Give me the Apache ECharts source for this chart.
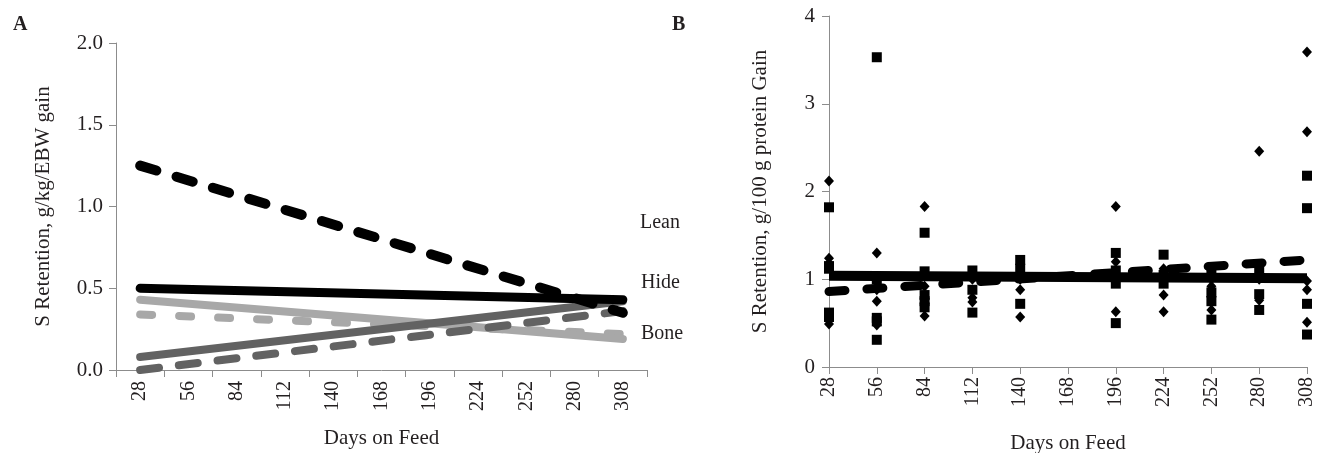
<!DOCTYPE html>
<html>
<head>
<meta charset="utf-8">
<script src="https://cdn.jsdelivr.net/npm/echarts@6/dist/echarts.min.js"></script>
<style>
html,body{margin:0;padding:0;background:#fff;}
#c{width:1317px;height:453px;}
</style>
</head>
<body>
<div id="c"></div>
<script>
// ---- Panel A data (linear trends, value at day 28 and day 308) ----
var daysA = ['28','56','84','112','140','168','196','224','252','280','308'];
var leanDashed   = [1.25, 0.35];   // black dashed
var hideSolid    = [0.50, 0.43];   // black solid
var boneSolid    = [0.43, 0.19];   // light grey solid
var boneDashed   = [0.34, 0.22];   // light grey dashed
var darkSolid    = [0.08, 0.42];   // dark grey solid
var darkDashed   = [0.00, 0.36];   // dark grey dashed
var yTicksA = [0, 0.5, 1.0, 1.5, 2.0];

// ---- Panel B data ----
var daysB = [28, 56, 84, 112, 140, 168, 196, 224, 252, 280, 308];
var diamondDays = [28,28,28,28,28, 56,56,56,56, 84,84,84,84,84, 112,112,112, 140,140,140,
                   196,196,196,196, 224,224,224, 252,252,252,252, 280,280,280, 308,308,308,308,308];
var diamondVals = [2.12,1.24,1.18,0.55,0.49, 1.30,0.88,0.75,0.48, 1.83,0.92,0.78,0.72,0.58, 1.00,0.79,0.74, 1.00,0.88,0.57,
                   1.83,1.20,1.05,0.63, 1.12,0.82,0.63, 1.00,0.92,0.80,0.65, 2.46,1.00,0.76, 3.59,2.68,0.98,0.88,0.51];
var squareDays = [28,28,28,28,28, 56,56,56,56,56, 84,84,84,84,84, 112,112,112, 140,140,140,
                  196,196,196,196, 224,224,224, 252,252,252,252, 280,280,280, 308,308,308,308];
var squareVals = [1.82,1.15,1.12,0.62,0.57, 3.53,1.00,0.56,0.52,0.31, 1.53,1.09,0.82,0.75,0.68, 1.10,0.88,0.62, 1.22,1.12,0.72,
                  1.30,1.10,0.95,0.50, 1.28,1.05,0.95, 1.05,0.85,0.75,0.54, 1.12,0.83,0.65, 2.18,1.81,0.72,0.37];
var trendSolidB  = [1.04, 1.01];
var trendDashedB = [0.86, 1.22];

var FONT = 'Liberation Serif';
var TXT = '#231f20';
var AX = '#8c8c8c';

function pairs(days, vals){ return days.map(function(d,i){ return [d, vals[i]]; }); }
function ends(arr){ return [[daysA[0], arr[0]], [daysA[daysA.length-1], arr[1]]]; }
function endsB(arr){ return [[daysB[0], arr[0]], [daysB[daysB.length-1], arr[1]]]; }

function lineA(name, arr, color, width, dash){
  return {
    name: name, type: 'line', xAxisIndex: 0, yAxisIndex: 0,
    data: ends(arr), symbol: 'none', silent: true, animation: false,
    lineStyle: { color: color, width: width, type: dash || 'solid', cap: 'round', opacity: 1 }
  };
}

var chart = echarts.init(document.getElementById('c'), null, {renderer: 'canvas'});
chart.setOption({
  animation: false,
  textStyle: { fontFamily: FONT, color: TXT },
  title: [
    { text: 'A', left: 8, top: 10, textStyle: { fontFamily: FONT, fontSize: 20, fontWeight: 'bold', color: TXT } },
    { text: 'B', left: 667, top: 10, textStyle: { fontFamily: FONT, fontSize: 20, fontWeight: 'bold', color: TXT } }
  ],
  grid: [
    { left: 116, top: 43, width: 531, height: 327, containLabel: false, outerBoundsMode: 'none' },
    { left: 829, top: 16, width: 478, height: 351, containLabel: false, outerBoundsMode: 'none' }
  ],
  xAxis: [
    {
      gridIndex: 0, type: 'category', data: daysA, boundaryGap: true,
      name: 'Days on Feed', nameLocation: 'middle', nameGap: 58,
      nameTextStyle: { fontFamily: FONT, fontSize: 21, color: TXT },
      axisLine: { lineStyle: { color: AX, width: 1 } },
      axisTick: { show: true, length: 7, lineStyle: { color: AX }, alignWithLabel: false },
      axisLabel: { rotate: 90, fontFamily: FONT, fontSize: 20, color: TXT, margin: 11 },
      splitLine: { show: false }
    },
    {
      gridIndex: 1, type: 'value', min: 28, max: 308, interval: 28,
      name: 'Days on Feed', nameLocation: 'middle', nameGap: 66,
      nameTextStyle: { fontFamily: FONT, fontSize: 21, color: TXT },
      axisLine: { lineStyle: { color: AX, width: 1 } },
      axisTick: { show: true, length: 7, lineStyle: { color: AX } },
      axisLabel: { rotate: 90, fontFamily: FONT, fontSize: 20, color: TXT, margin: 10 },
      splitLine: { show: false }
    }
  ],
  yAxis: [
    {
      gridIndex: 0, type: 'value', min: 0, max: 2, interval: 0.5,
      name: 'S Retention, g/kg/EBW gain', nameLocation: 'middle', nameGap: 62, nameRotate: 90,
      nameTextStyle: { fontFamily: FONT, fontSize: 21, color: TXT },
      axisLine: { show: true, lineStyle: { color: AX, width: 1 } },
      axisTick: { show: true, length: 7, lineStyle: { color: AX } },
      axisLabel: { fontFamily: FONT, fontSize: 21, color: TXT, margin: 13,
        formatter: function(v){ return v.toFixed(1); } },
      splitLine: { show: false }
    },
    {
      gridIndex: 1, type: 'value', min: 0, max: 4, interval: 1,
      name: 'S Retention, g/100 g protein Gain', nameLocation: 'middle', nameGap: 58, nameRotate: 90,
      nameTextStyle: { fontFamily: FONT, fontSize: 21, color: TXT },
      axisLine: { show: true, lineStyle: { color: AX, width: 1 } },
      axisTick: { show: true, length: 7, lineStyle: { color: AX } },
      axisLabel: { fontFamily: FONT, fontSize: 21, color: TXT, margin: 14 },
      splitLine: { show: false }
    }
  ],
  graphic: [
    { type: 'text', left: 640, top: 213, style: { text: 'Lean', font: '20px "Liberation Serif"', fill: TXT } },
    { type: 'text', left: 641, top: 273, style: { text: 'Hide', font: '20px "Liberation Serif"', fill: TXT } },
    { type: 'text', left: 641, top: 324, style: { text: 'Bone', font: '20px "Liberation Serif"', fill: TXT } }
  ],
  series: [
    lineA('Bone dashed', boneDashed, '#a8a8a8', 8, [12, 27]),
    lineA('Bone', boneSolid, '#a8a8a8', 8),
    lineA('Dark dashed', darkDashed, '#626262', 8, [19, 20]),
    lineA('Dark', darkSolid, '#626262', 8),
    lineA('Hide', hideSolid, '#000000', 9),
    lineA('Lean', leanDashed, '#000000', 10, [17, 21]),
    {
      name: 'Diamonds', type: 'scatter', xAxisIndex: 1, yAxisIndex: 1,
      data: pairs(diamondDays, diamondVals), symbol: 'diamond', symbolSize: [10, 11],
      itemStyle: { color: '#000', opacity: 1 }, clip: false, silent: true
    },
    {
      name: 'Squares', type: 'scatter', xAxisIndex: 1, yAxisIndex: 1,
      data: pairs(squareDays, squareVals), symbol: 'rect', symbolSize: 10,
      itemStyle: { color: '#000', opacity: 1 }, clip: false, silent: true
    },
    {
      name: 'Trend solid', type: 'line', xAxisIndex: 1, yAxisIndex: 1,
      data: endsB(trendSolidB), symbol: 'none', silent: true,
      lineStyle: { color: '#000', width: 10, type: 'solid', cap: 'butt', opacity: 1 }
    },
    {
      name: 'Trend dashed', type: 'line', xAxisIndex: 1, yAxisIndex: 1,
      data: endsB(trendDashedB), symbol: 'none', silent: true,
      lineStyle: { color: '#000', width: 9, type: [16, 22], cap: 'round', opacity: 1 }
    }
  ]
});
</script>
</body>
</html>
